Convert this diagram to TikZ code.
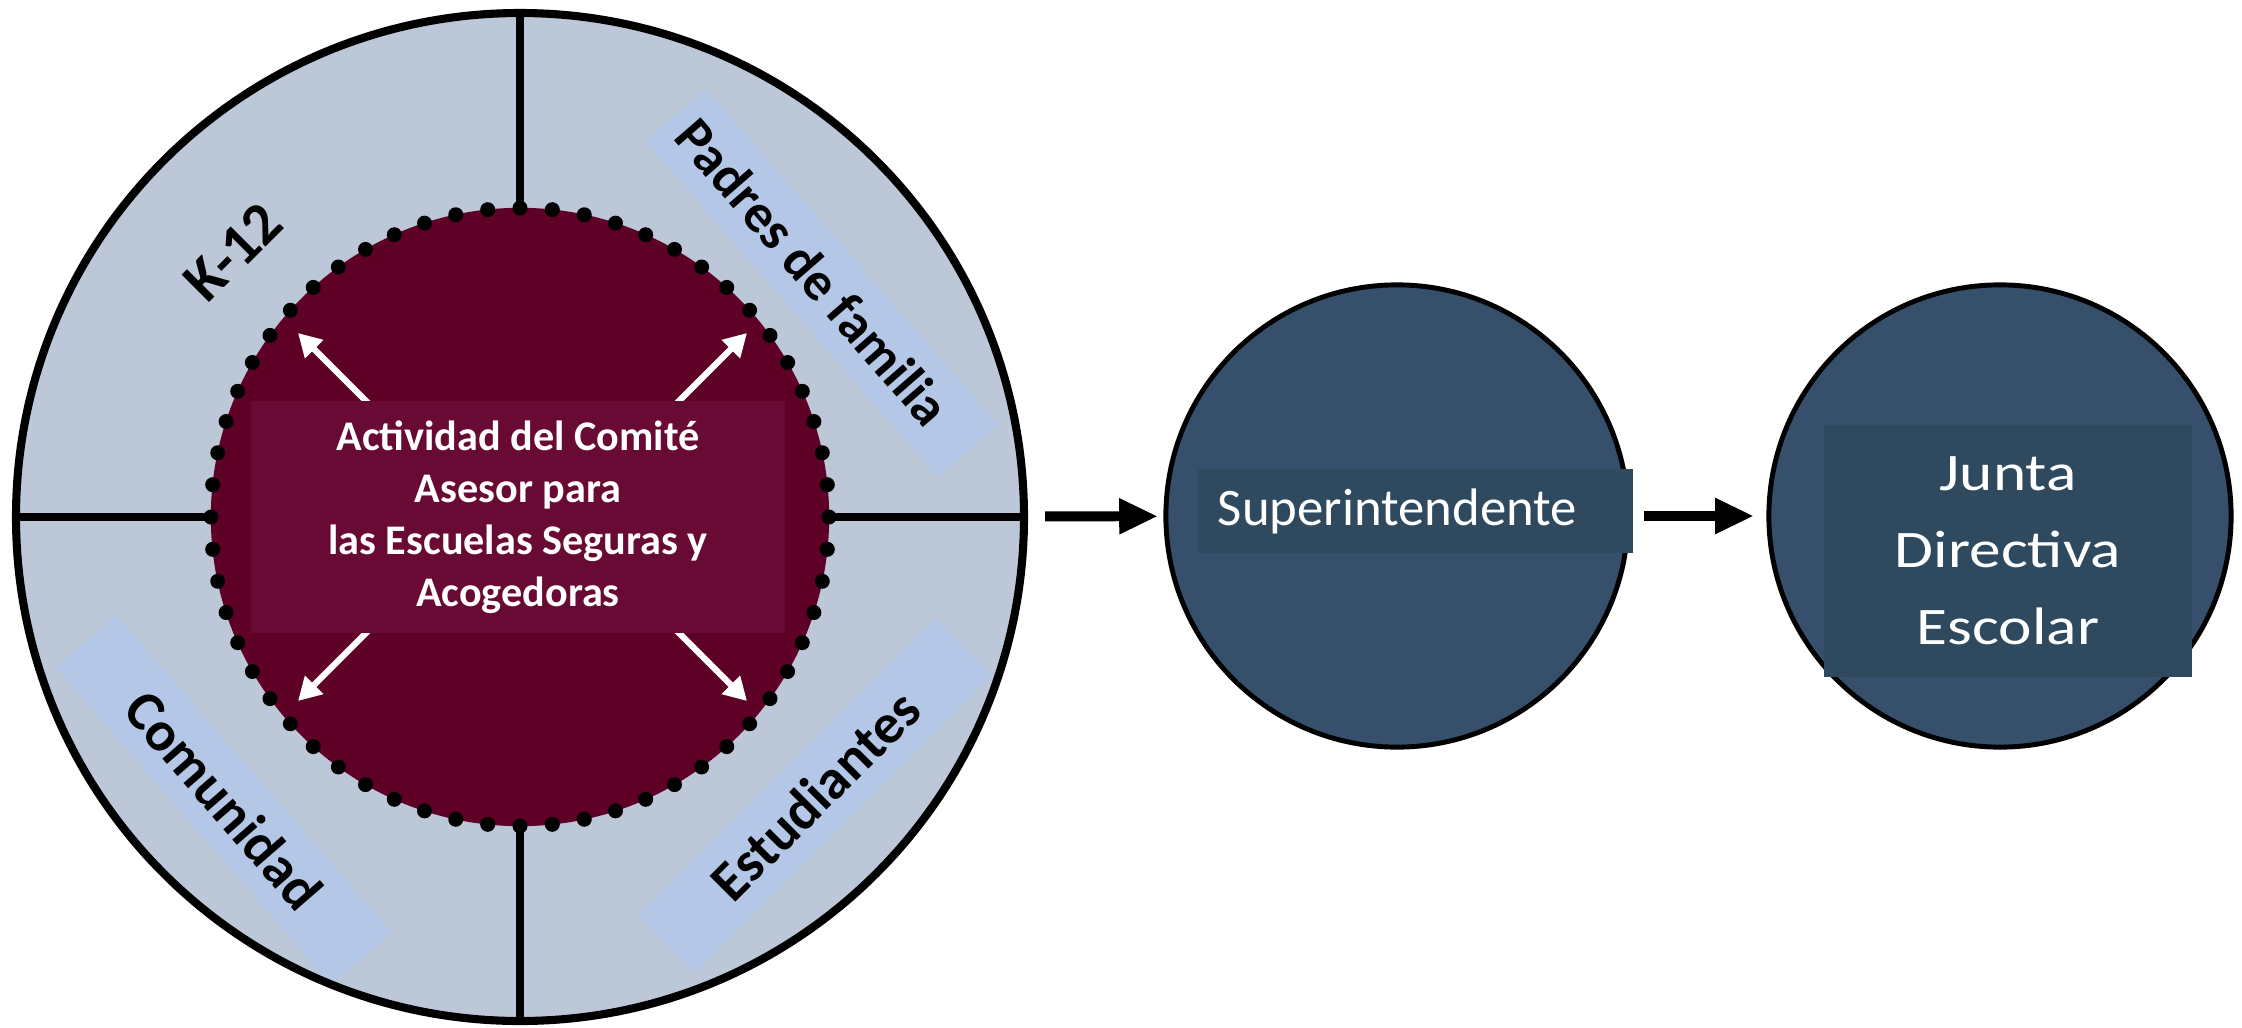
\documentclass[tikz,border=0pt]{standalone}
\usepackage{fontspec}
\setmainfont{Carlito}
\newfontfamily\widefont[FakeStretch=1.2]{Carlito}
\usetikzlibrary{arrows.meta}
\definecolor{ringgray}{HTML}{BCC8D8}
\definecolor{tagblue}{HTML}{B4C7E7}
\definecolor{wine}{HTML}{5F0026}
\definecolor{winebox}{HTML}{680A33}
\definecolor{slate}{HTML}{36506B}
\definecolor{slatebox}{HTML}{2F4A5F}
\begin{document}
\begin{tikzpicture}[x=0.01cm, y=-0.01cm, every node/.style={inner sep=0},
    lbl/.style={font=\bfseries\fontsize{16}{19}\selectfont},
    tag/.style={lbl, fill=tagblue, minimum width=4.2cm, minimum height=.8cm},
    body/.style={circle, draw, fill=slate, line width=1.4pt, minimum size=4.62cm},
    warrow/.style={white, line width=1.8pt, -{Triangle[length=6.5pt,width=7pt]}},
    barrow/.style={line width=2.8pt, -{Triangle[length=11pt,width=9.5pt]}}]
  \useasboundingbox (0,0) rectangle (2242,1027);
  % outer ring and its four parts
  \node [circle, fill=ringgray, minimum size=10.08cm] (ring) at (520,517) {};
  \node [lbl, rotate=45, font=\bfseries\fontsize{17}{20}\selectfont] (k12) at (233,252) {K-12};
  \node [tag, rotate=-49, minimum width=4.45cm] (padres) at (822,283) {};
  \node [lbl, rotate=-49, font=\bfseries\fontsize{15.4}{18}\selectfont] (padrestxt) at ([shift={(-9,-11)}]padres.center) {Padres de familia};
  \node [tag, rotate=-49] (comun) at (224,800) {Comunidad};
  \node [tag, rotate=45] (estud) at (815,795) {Estudiantes};
  \draw [line width=2.3pt] (ring) circle (504);
  \draw [line width=2.1pt] (ring.north) -- (ring.south);
  \draw [line width=2.1pt] (ring.west) -- (ring.east);
  % inner circle
  \node [circle, fill=wine, minimum size=6.18cm] (hub) at (520,517) {};
  \foreach \a in {0,6,...,354}
    \fill ([shift={(\a:309)}]hub.center) circle (7.5);
  \coordinate (h1) at (298,333); \coordinate (t1) at (375,410);
  \coordinate (h2) at (747,333); \coordinate (t2) at (670,410);
  \coordinate (h3) at (298,701); \coordinate (t3) at (375,624);
  \coordinate (h4) at (747,701); \coordinate (t4) at (670,624);
  \foreach \i in {1,...,4}
    \draw [warrow] (t\i) -- (h\i);
  \node [fill=winebox, minimum width=5.34cm, minimum height=2.31cm, text=white, align=center,
    font=\bfseries\fontsize{12}{14.8}\selectfont] (act) at (518,517)
    {Actividad del Comité\\Asesor para\\las Escuelas Seguras y\\Acogedoras};
  % right side
  \node [body] (sup) at (1397,516) {};
  \node [fill=slatebox, text width=3.95cm, inner xsep=.2cm, minimum height=.84cm, align=left,
    text=white, font=\fontsize{15}{18}\selectfont] (suptxt) at (1415.5,511) {Superintendente};
  \node [body] (junta) at (2000,516) {};
  \node [fill=slatebox, minimum width=3.68cm, minimum height=2.52cm, text=white, align=center,
    font=\widefont\fontsize{15}{21.9}\selectfont] (juntatxt) at (2008,551) {Junta\\Directiva\\Escolar};
  \draw [barrow, shorten <=.2cm, shorten >=.055cm] (ring) -- (sup);
  \draw [barrow, shorten <=.135cm, shorten >=.125cm] (sup) -- (junta);
\end{tikzpicture}
\end{document}
